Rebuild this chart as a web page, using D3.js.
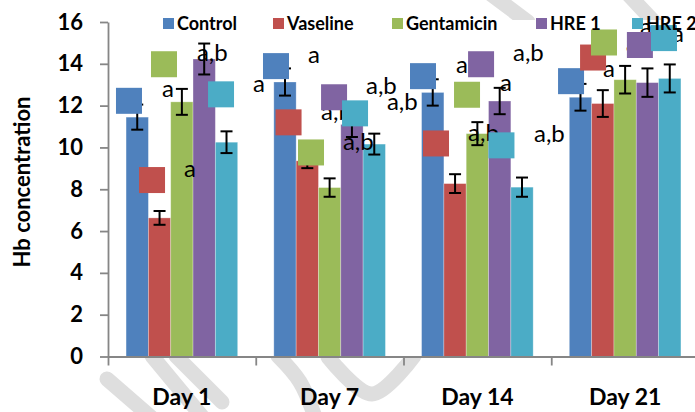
<!DOCTYPE html>
<html>
<head>
<meta charset="utf-8">
<script src="https://cdn.jsdelivr.net/npm/d3@7"></script>
<style>
  html, body { margin: 0; padding: 0; background: #fff; }
  svg { display: block; font-family: "Lato", sans-serif; }
</style>
</head>
<body>
<div id="chart"></div>
<script>
// Hb concentration per group
const days = ['Day 1', 'Day 7', 'Day 14', 'Day 21'];
const seriesNames = ['Control', 'Vaseline', 'Gentamicin', 'HRE 1', 'HRE 2'];
const colors = ['#4F81BD', '#C0504D', '#9BBB59', '#8064A2', '#4BACC6'];

const control    = [11.45, 13.13, 12.63, 12.40];
const vaseline   = [6.63, 9.36, 8.27, 12.10];
const gentamicin = [12.18, 8.08, 10.66, 13.24];
const hre1       = [14.23, 11.10, 12.22, 13.10];
const hre2       = [10.25, 10.16, 8.10, 13.30];

const controlErr    = [0.60, 0.65, 0.63, 0.64];
const vaselineErr   = [0.33, 0.35, 0.45, 0.64];
const gentamicinErr = [0.62, 0.44, 0.55, 0.66];
const hre1Err       = [0.74, 0.60, 0.63, 0.68];
const hre2Err       = [0.52, 0.50, 0.46, 0.67];

const yTicks = [0, 2, 4, 6, 8, 10, 12, 14, 16];

// overlaid significance markers: position in category units (0..4) and value units
const squareMarks = [
  { series: 0, pos: 0.142, value: 12.23 }, { series: 1, pos: 0.298, value: 8.44 },
  { series: 2, pos: 0.379, value: 13.98 }, { series: 4, pos: 0.765, value: 12.54 },
  { series: 0, pos: 1.137, value: 13.89 }, { series: 1, pos: 1.222, value: 11.20 },
  { series: 2, pos: 1.374, value: 9.76 },  { series: 3, pos: 1.530, value: 12.40 },
  { series: 4, pos: 1.672, value: 11.63 },
  { series: 0, pos: 2.132, value: 13.41 }, { series: 3, pos: 2.525, value: 13.98 },
  { series: 2, pos: 2.430, value: 12.52 }, { series: 1, pos: 2.220, value: 10.19 },
  { series: 4, pos: 2.663, value: 10.10 },
  { series: 0, pos: 3.134, value: 13.17 }, { series: 1, pos: 3.283, value: 14.30 },
  { series: 2, pos: 3.357, value: 15.02 }, { series: 3, pos: 3.600, value: 14.90 },
  { series: 4, pos: 3.763, value: 15.23 }
];
const letterMarks = [
  { text: 'a,b', pos: 0.602, value: 14.14 }, { text: 'a', pos: 0.365, value: 12.40 },
  { text: 'a', pos: 0.514, value: 8.57 },    { text: 'a', pos: 1.354, value: 14.05 },
  { text: 'a', pos: 0.981, value: 12.64 },   { text: 'a,b', pos: 1.442, value: 11.30 },
  { text: 'a,b', pos: 1.746, value: 12.55 }, { text: 'a,b', pos: 1.888, value: 11.78 },
  { text: 'a,b', pos: 1.590, value: 9.86 },  { text: 'a', pos: 2.355, value: 13.55 },
  { text: 'a,b', pos: 2.741, value: 14.14 }, { text: 'a', pos: 2.653, value: 12.69 },
  { text: 'a,b', pos: 2.437, value: 10.29 }, { text: 'a,b', pos: 2.883, value: 10.24 },
  { text: 'a', pos: 3.350, value: 13.36 },   { text: 'a', pos: 3.506, value: 14.56 },
  { text: 'a', pos: 3.600, value: 15.38 },   { text: 'a', pos: 3.817, value: 15.04 }
];

const values = [control, vaseline, gentamicin, hre1, hre2];
const errors = [controlErr, vaselineErr, gentamicinErr, hre1Err, hre2Err];

const W = 695, H = 412;
const margin = { top: 22, left: 108, bottom: 356.5 };
const xEnd = 699;
const legendX = [163, 273, 392, 536, 632];

const svg = d3.select('#chart').append('svg').attr('width', W).attr('height', H);

// faint watermark strokes behind the plot area
const watermark = [
  [[107, 379], [160, 425]],
  [[152, 356], [205, 420]],
  [[176, 356], [222, 402]],
  [[278, 356], [300, 382], [316, 420]],
  [[328, 357], [372, 394], [414, 356]],
  [[488, -8], [528, 22]],
  [[626, -8], [656, 24]]
];
svg.append('g').selectAll('path').data(watermark).join('path')
  .attr('d', d3.line().curve(d3.curveCatmullRom))
  .attr('fill', 'none').attr('stroke', '#dedede')
  .attr('stroke-width', 15).attr('stroke-linecap', 'round').attr('stroke-linejoin', 'round');

svg.append('rect').attr('x', margin.left).attr('y', margin.top - 2)
  .attr('width', W - margin.left).attr('height', margin.bottom - margin.top + 2)
  .attr('fill', '#fff');

const y = d3.scaleLinear().domain([0, 16]).range([margin.bottom, margin.top]);
const x = d3.scaleBand().domain(days).range([margin.left, xEnd]).padding(0);
const xInner = d3.scaleBand().domain(seriesNames).range([0, x.bandwidth()])
  .paddingInner(0).paddingOuter(0.81);
const xPos = d3.scaleLinear().domain([0, days.length]).range([margin.left, xEnd]);

// bars
const groups = svg.append('g').selectAll('g').data(days).join('g')
  .attr('transform', d => `translate(${x(d)},0)`);

groups.each(function (day, di) {
  const g = d3.select(this);
  seriesNames.forEach((name, si) => {
    g.append('rect')
      .attr('x', xInner(name))
      .attr('y', y(values[si][di]))
      .attr('width', xInner.bandwidth())
      .attr('height', y(0) - y(values[si][di]))
      .attr('fill', colors[si])
      .attr('stroke', 'rgba(255,255,255,0.35)').attr('stroke-width', 0.8);
  });
});

// error bars
groups.each(function (day, di) {
  const g = d3.select(this);
  seriesNames.forEach((name, si) => {
    const cx = xInner(name) + xInner.bandwidth() / 2;
    const v = values[si][di], e = errors[si][di];
    const eb = g.append('g').attr('stroke', '#000').attr('stroke-width', 2);
    eb.append('line').attr('x1', cx).attr('x2', cx).attr('y1', y(v + e)).attr('y2', y(v - e));
    [v + e, v - e].forEach(t => {
      eb.append('line').attr('x1', cx - 6).attr('x2', cx + 6).attr('y1', y(t)).attr('y2', y(t));
    });
  });
});

// axes
const axisColor = '#868686';
const yAxis = svg.append('g').attr('transform', `translate(${margin.left},0)`)
  .call(d3.axisLeft(y).tickValues(yTicks).tickSize(8).tickSizeOuter(0).tickPadding(17));
yAxis.selectAll('path, line').attr('stroke', axisColor).attr('stroke-width', 1.8);
yAxis.selectAll('text').attr('fill', '#000').style('font-size', '22px').style('font-weight', 700)
  .style('font-family', 'Lato');

const xTickAxis = svg.append('g').attr('transform', `translate(0,${margin.bottom})`)
  .call(d3.axisBottom(xPos).tickValues(d3.range(days.length + 1)).tickSize(9)
    .tickSizeOuter(0).tickFormat(''));
xTickAxis.selectAll('path, line').attr('stroke', axisColor).attr('stroke-width', 1.8);

const xLabels = svg.append('g').attr('transform', `translate(0,${margin.bottom})`)
  .call(d3.axisBottom(x).tickSize(0).tickPadding(0));
xLabels.select('.domain').remove();
xLabels.selectAll('text').attr('fill', '#000').attr('y', 48).attr('dy', 0)
  .style('font-size', '23px').style('font-weight', 700).style('font-family', 'Lato');

// y title
svg.append('text')
  .attr('transform', `translate(30,182) rotate(-90)`)
  .attr('text-anchor', 'middle')
  .style('font-size', '22px').style('font-weight', 700)
  .text('Hb concentration');

// letters then squares
svg.append('g').selectAll('text').data(letterMarks).join('text')
  .attr('x', d => xPos(d.pos)).attr('y', d => y(d.value))
  .style('font-size', '24px').attr('fill', '#000')
  .text(d => d.text);

const sq = 26;
svg.append('g').selectAll('rect').data(squareMarks).join('rect')
  .attr('x', d => xPos(d.pos) - sq / 2).attr('y', d => y(d.value) - sq / 2)
  .attr('width', sq).attr('height', sq)
  .attr('fill', d => colors[d.series]);

// legend
const legend = svg.append('g').attr('transform', 'translate(0,18)');
seriesNames.forEach((name, i) => {
  const item = legend.append('g').attr('transform', `translate(${legendX[i]},0)`);
  item.append('rect').attr('width', 11).attr('height', 11).attr('fill', colors[i]);
  item.append('text').attr('x', 14).attr('y', 11.5)
    .style('font-size', '18px').style('font-weight', 700).text(name);
});
</script>
</body>
</html>
